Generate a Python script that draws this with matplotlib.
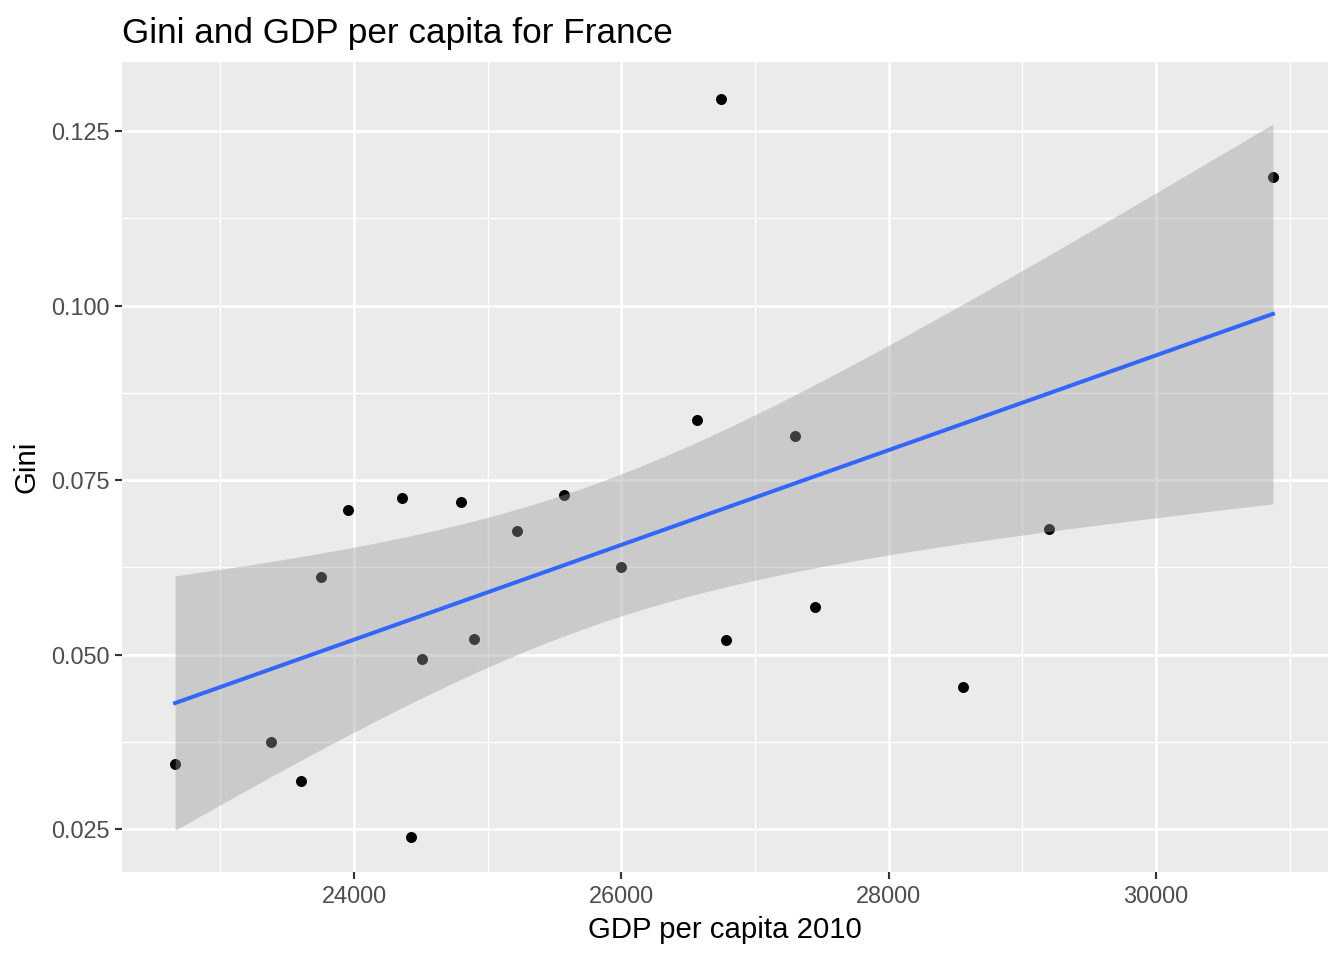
import numpy as np
import matplotlib
matplotlib.use("Agg")
import matplotlib.pyplot as plt

plt.rcParams['font.family'] = ['Liberation Sans', 'DejaVu Sans']

gdp = [22661, 23379, 23603, 23753, 23955, 24359, 24426, 24509, 24800, 24898,
       25219, 25571, 26000, 26566, 26746, 26783, 27299, 27449, 28556, 29199, 30875]
gini = [0.0343, 0.0375, 0.0319, 0.0611, 0.0707, 0.0724, 0.0239, 0.0494, 0.0718, 0.0522,
        0.0677, 0.0728, 0.0625, 0.0836, 0.1296, 0.0521, 0.0813, 0.0568, 0.0453, 0.0680, 0.1184]
x_ticks = [24000, 26000, 28000, 30000]
y_ticks = [0.025, 0.050, 0.075, 0.100, 0.125]
title = "Gini and GDP per capita for France"
xlabel = "GDP per capita 2010"
ylabel = "Gini"

x = np.array(gdp, dtype=float)
y = np.array(gini, dtype=float)
n = len(x)
b1, b0 = np.polyfit(x, y, 1)
resid = y - (b0 + b1 * x)
s = np.sqrt(np.sum(resid ** 2) / (n - 2))
t_crit = 2.093  # t(0.975, df=19)
xs = np.linspace(x.min(), x.max(), 80)
ys = b0 + b1 * xs
se = s * np.sqrt(1.0 / n + (xs - x.mean()) ** 2 / np.sum((x - x.mean()) ** 2))
lo = ys - t_crit * se
hi = ys + t_crit * se

fig = plt.figure(figsize=(7, 5), dpi=192)
ax = fig.add_axes([0.0908, 0.0917, 0.9881 - 0.0908, 0.9354 - 0.0917])
ax.set_facecolor('#EBEBEB')
for sp in ax.spines.values():
    sp.set_visible(False)

ax.set_xlim(22264, 31287)
ax.set_ylim(0.01884, 0.1349)

ax.set_xticks(x_ticks)
ax.set_xticklabels([str(v) for v in x_ticks])
ax.set_yticks(y_ticks)
ax.set_yticklabels([f"{v:.3f}" for v in y_ticks])
ax.set_xticks([23000, 25000, 27000, 29000, 31000], minor=True)
ax.set_yticks([0.0375, 0.0625, 0.0875, 0.1125], minor=True)
ax.grid(which='major', color='white', linewidth=1.0)
ax.grid(which='minor', color='white', linewidth=0.5)
ax.set_axisbelow(True)
ax.tick_params(which='major', length=2.75, width=0.8, color='#333333',
               labelcolor='#4D4D4D', labelsize=8.8, pad=2)
ax.tick_params(which='minor', length=0)

ax.scatter(x, y, s=17, color='black', zorder=2, linewidths=0)
ax.fill_between(xs, lo, hi, color='#999999', alpha=0.4, linewidth=0, zorder=3)
ax.plot(xs, ys, color='#3366FF', linewidth=1.5, zorder=4)

ax.set_title(title, loc='left', fontsize=13.2, color='black', pad=7, x=0.0)
ax.set_xlabel(xlabel, fontsize=11, color='black', labelpad=3)
ax.set_ylabel(ylabel, fontsize=11, color='black', labelpad=4)

fig.savefig('out.png', dpi=192)
